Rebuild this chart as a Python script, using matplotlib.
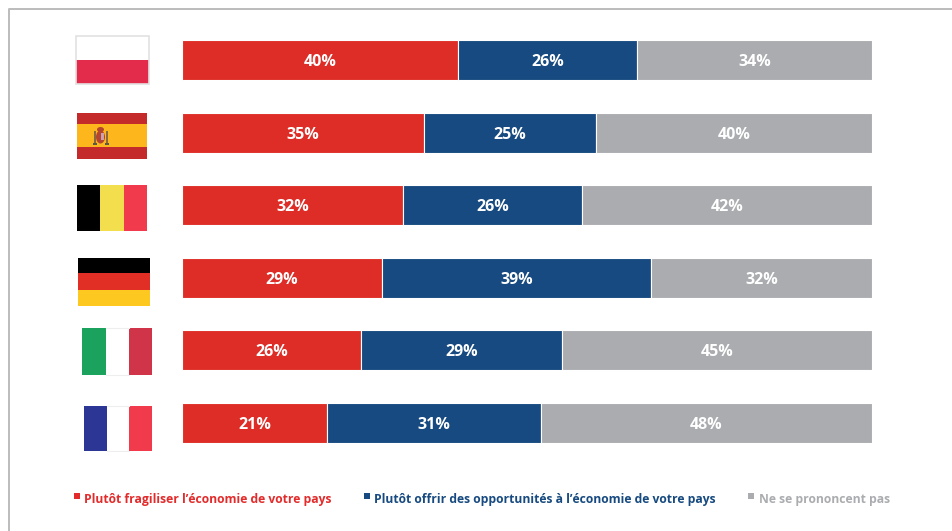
import matplotlib
matplotlib.use('Agg')
import matplotlib.pyplot as plt
from matplotlib.patches import Rectangle, Ellipse
import numpy as np

# Share of answers per country, top to bottom
pays = ['Pologne', 'Espagne', 'Belgique', 'Allemagne', 'Italie', 'France']
fragiliser = [40, 35, 32, 29, 26, 21]
opportunites = [26, 25, 26, 39, 29, 31]
sans_avis = [34, 40, 42, 32, 45, 48]

legende = ['Plutôt fragiliser l’économie de votre pays',
           'Plutôt offrir des opportunités à l’économie de votre pays',
           'Ne se prononcent pas']

ROUGE = '#de2d26'
BLEU = '#164a80'
GRIS = '#aaacaf'
W, H = 952, 531

plt.rcParams['font.family'] = ['Open Sans', 'DejaVu Sans']
fig = plt.figure(figsize=(W / 100, H / 100), dpi=100, facecolor='white')

# Bars: the axes span exactly the 0-100 range
ax = fig.add_axes([182 / W, 1 - 449.2 / H, 690 / W, 415.3 / H])
y = np.arange(len(pays))
gauche = np.zeros(len(pays))
for valeurs, couleur in zip([fragiliser, opportunites, sans_avis], [ROUGE, BLEU, GRIS]):
    bars = ax.barh(y, valeurs, left=gauche, height=0.55, color=couleur,
                   edgecolor='white', linewidth=0.8)
    for b, v in zip(bars, valeurs):
        ax.text(b.get_x() + b.get_width() / 2, b.get_y() + b.get_height() / 2, f'{v}%',
                ha='center', va='center_baseline', color='white', fontsize=11.5,
                fontweight='bold')
    gauche += np.array(valeurs)
ax.set_xlim(0, 100)
ax.set_ylim(5.36, -0.36)
ax.axis('off')

# Overlay in pixel coordinates for flags, frame and legend
px = fig.add_axes([0, 0, 1, 1], zorder=-1)
px.set_xlim(0, W)
px.set_ylim(H, 0)
px.axis('off')


def bandes_h(x0, x1, ys, couleurs):
    for i, c in enumerate(couleurs):
        px.add_patch(Rectangle((x0, ys[i]), x1 - x0, ys[i + 1] - ys[i], fc=c, ec='none'))


def bandes_v(xs, y0, y1, couleurs):
    for i, c in enumerate(couleurs):
        px.add_patch(Rectangle((xs[i], y0), xs[i + 1] - xs[i], y1 - y0, fc=c, ec='none'))


# frame, open at the right and bottom
px.plot([8.5, 8.5, W], [H, 9, 9], color='#bcbcbc', lw=1.4)

# Poland
bandes_h(76, 149, [36, 60, 84], ['white', '#e32b4b'])
px.add_patch(Rectangle((76, 36), 73, 48, fc='none', ec='#e2e2e2', lw=1.2))

# Spain with a small coat of arms
bandes_h(77, 147, [113, 124, 147, 159], ['#c42a2a', '#fdb61c', '#c42a2a'])
px.add_patch(Ellipse((100.5, 129.5), 7, 5, fc='#b5452f', ec='none'))
px.add_patch(Ellipse((100.5, 137), 9, 13, fc='#b5452f', ec='none'))
px.add_patch(Rectangle((100.5, 132.5), 3.5, 7, fc='#c9a0b4', ec='none'))
px.add_patch(Rectangle((93.5, 131), 2.4, 12, fc='#8a6a3c', ec='none'))
px.add_patch(Rectangle((105.5, 131), 2.4, 12, fc='#8a6a3c', ec='none'))
px.add_patch(Rectangle((93, 142.5), 3.5, 2, fc='#5a5a4a', ec='none'))
px.add_patch(Rectangle((105, 142.5), 3.5, 2, fc='#5a5a4a', ec='none'))

# Belgium
bandes_v([77, 100, 124, 147], 185, 231, ['black', '#f3df4d', '#f13a4c'])

# Germany
bandes_h(77.5, 149.5, [257.5, 272.5, 290, 305.5], ['black', '#e22f25', '#fdc921'])

# Italy
bandes_v([82, 105.5, 128.5, 152], 328, 375, ['#1ba25c', 'white', '#d03448'])
px.plot([105.5, 128.5], [328, 328], color='#eeeeee', lw=0.8)
px.plot([105.5, 128.5], [375, 375], color='#eeeeee', lw=0.8)

# France
bandes_v([84, 106.5, 129, 152], 405.5, 451, ['#2c3795', 'white', '#f13a4c'])
px.plot([106.5, 129], [405.5, 405.5], color='#eeeeee', lw=0.8)
px.plot([106.5, 129], [451, 451], color='#eeeeee', lw=0.8)

# Legend
for x_carre, x_texte, texte, couleur in zip([73.5, 363.5, 748], [84, 374, 759], legende,
                                            ['#e32b2b', BLEU, GRIS]):
    px.add_patch(Rectangle((x_carre, 493), 6, 6, fc=couleur, ec='none'))
    px.text(x_texte, 499, texte, color=couleur, fontsize=8.7, fontweight='bold',
            ha='left', va='center')

fig.savefig('out.png', dpi=100, facecolor='white')
